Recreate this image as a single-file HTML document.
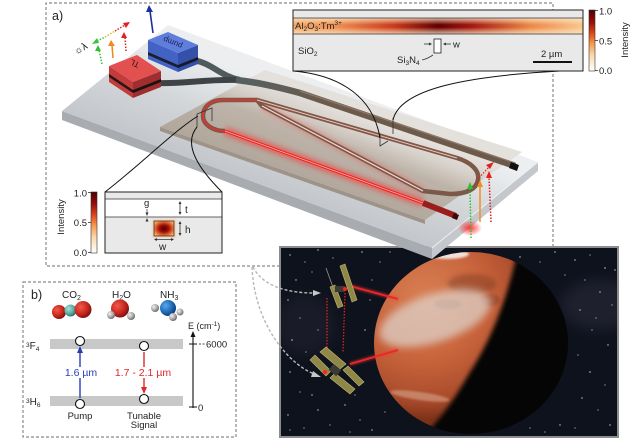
<!DOCTYPE html>
<html><head><meta charset="utf-8">
<style>
html,body{margin:0;padding:0;background:#fff;}
svg{display:block;}
text{font-family:"Liberation Sans",Arial,sans-serif;fill:#222;}
</style></head>
<body>
<svg width="637" height="443" viewBox="0 0 637 443" xmlns="http://www.w3.org/2000/svg">
<defs>
<linearGradient id="cb" x1="0" y1="0" x2="0" y2="1">
 <stop offset="0" stop-color="#4d0000"/>
 <stop offset="0.2" stop-color="#9a0d0a"/>
 <stop offset="0.4" stop-color="#e0501e"/>
 <stop offset="0.55" stop-color="#f59a4c"/>
 <stop offset="0.75" stop-color="#fcd9ae"/>
 <stop offset="1" stop-color="#ffffff"/>
</linearGradient>
<linearGradient id="band" x1="0" y1="0" x2="1" y2="0">
 <stop offset="0" stop-color="#f2a868"/>
 <stop offset="0.15" stop-color="#ee9052"/>
 <stop offset="0.35" stop-color="#c83a1c"/>
 <stop offset="0.5" stop-color="#620000"/>
 <stop offset="0.62" stop-color="#a51a10"/>
 <stop offset="0.82" stop-color="#ec8a48"/>
 <stop offset="1" stop-color="#f8c890"/>
</linearGradient>
<linearGradient id="bandv" x1="0" y1="0" x2="0" y2="1">
 <stop offset="0" stop-color="#fde8c8" stop-opacity="0.8"/>
 <stop offset="0.42" stop-color="#fde8c8" stop-opacity="0"/>
 <stop offset="0.58" stop-color="#fde8c8" stop-opacity="0"/>
 <stop offset="1" stop-color="#fde8c8" stop-opacity="0.8"/>
</linearGradient>
<radialGradient id="mode" cx="0.5" cy="0.5" r="0.6">
 <stop offset="0" stop-color="#4a0000"/>
 <stop offset="0.4" stop-color="#a01008"/>
 <stop offset="0.75" stop-color="#e86a30"/>
 <stop offset="1" stop-color="#f8b070"/>
</radialGradient>
<linearGradient id="slabTop" gradientUnits="userSpaceOnUse" x1="250" y1="181" x2="285" y2="87">
 <stop offset="0" stop-color="#c3c7cb"/>
 <stop offset="0.5" stop-color="#d3d6d9"/>
 <stop offset="1" stop-color="#eceef0"/>
</linearGradient>
<linearGradient id="beige" gradientUnits="userSpaceOnUse" x1="290" y1="175" x2="318" y2="100">
 <stop offset="0" stop-color="#b2a79c"/>
 <stop offset="0.55" stop-color="#bdb3a8"/>
 <stop offset="0.8" stop-color="#d8d2cc"/>
 <stop offset="1" stop-color="#e4e0dc"/>
</linearGradient>
<linearGradient id="fiber" gradientUnits="userSpaceOnUse" x1="160" y1="0" x2="330" y2="0">
 <stop offset="0" stop-color="#3e4446"/>
 <stop offset="0.5" stop-color="#55615f"/>
 <stop offset="1" stop-color="#6e5a4a"/>
</linearGradient>
<radialGradient id="planet" gradientUnits="userSpaceOnUse" cx="425" cy="300" r="120">
 <stop offset="0" stop-color="#d98055"/>
 <stop offset="0.5" stop-color="#c8643c"/>
 <stop offset="0.85" stop-color="#a84a2a"/>
 <stop offset="1" stop-color="#7a3018"/>
</radialGradient>
<radialGradient id="glowR" cx="0.5" cy="0.5" r="0.5">
 <stop offset="0" stop-color="#ff2a2a" stop-opacity="0.95"/>
 <stop offset="1" stop-color="#ff2a2a" stop-opacity="0"/>
</radialGradient>
<radialGradient id="sRed" cx="0.35" cy="0.35" r="0.7">
 <stop offset="0" stop-color="#f05a4a"/><stop offset="0.6" stop-color="#c8281e"/><stop offset="1" stop-color="#7a1010"/>
</radialGradient>
<radialGradient id="sTeal" cx="0.35" cy="0.35" r="0.7">
 <stop offset="0" stop-color="#a8e0d8"/><stop offset="0.6" stop-color="#5aaca2"/><stop offset="1" stop-color="#2e6a64"/>
</radialGradient>
<radialGradient id="sGray" cx="0.35" cy="0.35" r="0.7">
 <stop offset="0" stop-color="#f0f0f0"/><stop offset="0.6" stop-color="#a8a8a8"/><stop offset="1" stop-color="#606060"/>
</radialGradient>
<radialGradient id="sBlue" cx="0.35" cy="0.35" r="0.7">
 <stop offset="0" stop-color="#5aa8e8"/><stop offset="0.6" stop-color="#1e6ab8"/><stop offset="1" stop-color="#0c3a70"/>
</radialGradient>
<filter id="b1" x="-50%" y="-50%" width="200%" height="200%"><feGaussianBlur stdDeviation="1"/></filter>
<filter id="b2" x="-50%" y="-50%" width="200%" height="200%"><feGaussianBlur stdDeviation="2.5"/></filter>
<filter id="b4" x="-50%" y="-50%" width="200%" height="200%"><feGaussianBlur stdDeviation="4"/></filter>
<filter id="b6" x="-50%" y="-50%" width="200%" height="200%"><feGaussianBlur stdDeviation="7"/></filter>
<clipPath id="pclip"><ellipse cx="471" cy="343" rx="97" ry="91"/></clipPath>
<clipPath id="mclip"><rect x="281" y="248" width="336" height="188"/></clipPath>
</defs>

<!-- ================= MARS IMAGE ================= -->
<g clip-path="url(#mclip)">
 <rect x="280" y="247" width="338" height="190" fill="#0e121d"/>
 <ellipse cx="600" cy="305" rx="40" ry="25" fill="#6a6478" opacity="0.18" filter="url(#b6)"/>
 <ellipse cx="305" cy="325" rx="30" ry="30" fill="#5a5868" opacity="0.15" filter="url(#b6)"/>
 <g fill="#fff" opacity="0.75">
  <circle cx="290" cy="255" r="0.7"/><circle cx="305" cy="262" r="0.6"/><circle cx="318" cy="250" r="0.7"/><circle cx="333" cy="258" r="0.6"/><circle cx="362" cy="252" r="0.7"/><circle cx="380" cy="262" r="0.6"/><circle cx="296" cy="280" r="0.7"/><circle cx="312" cy="272" r="0.6"/><circle cx="288" cy="300" r="0.7"/><circle cx="300" cy="318" r="0.6"/><circle cx="292" cy="340" r="0.8"/><circle cx="306" cy="352" r="0.6"/><circle cx="290" cy="372" r="0.7"/><circle cx="300" cy="392" r="0.6"/><circle cx="288" cy="415" r="0.7"/><circle cx="304" cy="428" r="0.6"/><circle cx="318" cy="410" r="0.7"/><circle cx="330" cy="425" r="0.6"/><circle cx="345" cy="405" r="0.7"/><circle cx="360" cy="420" r="0.6"/><circle cx="372" cy="430" r="0.7"/><circle cx="385" cy="412" r="0.6"/><circle cx="355" cy="395" r="0.6"/><circle cx="370" cy="300" r="0.6"/><circle cx="365" cy="330" r="0.7"/><circle cx="575" cy="260" r="0.7"/><circle cx="590" cy="255" r="0.6"/><circle cx="605" cy="268" r="0.8"/><circle cx="585" cy="280" r="0.6"/><circle cx="600" cy="292" r="0.7"/><circle cx="612" cy="305" r="0.6"/><circle cx="580" cy="310" r="0.7"/><circle cx="592" cy="330" r="0.6"/><circle cx="608" cy="345" r="0.7"/><circle cx="578" cy="355" r="0.6"/><circle cx="590" cy="372" r="0.8"/><circle cx="605" cy="385" r="0.6"/><circle cx="582" cy="398" r="0.7"/><circle cx="598" cy="410" r="0.6"/><circle cx="610" cy="425" r="0.7"/><circle cx="575" cy="428" r="0.6"/><circle cx="560" cy="425" r="0.7"/><circle cx="545" cy="432" r="0.6"/><circle cx="530" cy="428" r="0.6"/><circle cx="520" cy="257" r="0.7"/><circle cx="540" cy="262" r="0.6"/><circle cx="555" cy="252" r="0.7"/><circle cx="565" cy="275" r="0.6"/><circle cx="390" cy="252" r="0.6"/><circle cx="372" cy="280" r="0.6"/><circle cx="318" cy="330" r="0.6"/><circle cx="312" cy="395" r="0.7"/><circle cx="290" cy="430" r="0.6"/><circle cx="350" cy="432" r="0.6"/><circle cx="596" cy="318" r="0.6"/><circle cx="615" cy="270" r="0.7"/>
 </g>
 <ellipse cx="471" cy="343" rx="97" ry="91" fill="#050505"/>
 <g clip-path="url(#pclip)">
  <path d="M360,240 L522,240 L515,262 C506,300 492,338 470,372 C455,398 440,420 420,440 L360,440 Z" fill="url(#planet)" filter="url(#b2)"/>
  <ellipse cx="472" cy="284" rx="24" ry="10" fill="#7a3a24" opacity="0.45" filter="url(#b2)"/>
  <ellipse cx="448" cy="304" rx="14" ry="5" fill="#7a3a25" opacity="0.45" filter="url(#b1)"/>
  <ellipse cx="490" cy="300" rx="10" ry="6" fill="#7a3a25" opacity="0.4" filter="url(#b1)"/>
  <ellipse cx="435" cy="318" rx="58" ry="24" transform="rotate(-18 435 318)" fill="#ddd0c8" opacity="0.75" filter="url(#b4)"/>
  <ellipse cx="447" cy="254" rx="22" ry="5" fill="#f4eee8" opacity="0.9" filter="url(#b1)"/>
  <ellipse cx="420" cy="396" rx="30" ry="4" transform="rotate(8 420 396)" fill="#e0b8a0" opacity="0.5" filter="url(#b1)"/>
 </g>
 <line x1="350" y1="286" x2="398" y2="299" stroke="#ff3030" stroke-width="4" opacity="0.5" filter="url(#b1)"/>
 <line x1="350" y1="286" x2="398" y2="299" stroke="#e82828" stroke-width="1.8"/>
 <line x1="350" y1="364" x2="398" y2="350" stroke="#ff3030" stroke-width="4" opacity="0.5" filter="url(#b1)"/>
 <line x1="350" y1="364" x2="398" y2="350" stroke="#e82828" stroke-width="1.8"/>
 <line x1="327" y1="298" x2="327" y2="350" stroke="#e02020" stroke-width="1.3" stroke-dasharray="1.5,1.5"/>
 <line x1="345" y1="293" x2="343" y2="352" stroke="#e02020" stroke-width="1.3" stroke-dasharray="1.5,1.5"/>
 <g fill="#8e8748" stroke="#c4ba70" stroke-width="0.6">
  <polygon points="340,266 345,264 357,300 352,302"/>
  <polygon points="330,287 335,285 343,306 338,308"/>
  <polygon points="320,352 326,347 346,364 340,369"/>
  <polygon points="310,360 315,355 331,371 326,376"/>
  <polygon points="330,378 335,373 355,389 350,394"/>
  <polygon points="343,370 348,366 364,382 359,386"/>
 </g>
 <line x1="326" y1="268" x2="334" y2="290" stroke="#9a9a80" stroke-width="0.8"/>
 <rect x="335" y="286" width="10" height="6" fill="#3a3a34"/>
 <rect x="330" y="366" width="10" height="8" fill="#3a3a34" transform="rotate(40 335 370)"/>
 <circle cx="345" cy="289" r="2" fill="#ff2020"/>
 <circle cx="325" cy="372" r="2" fill="#ff2020"/>
</g>
<rect x="280" y="247" width="338" height="190" fill="none" stroke="#8c8c8c" stroke-width="2"/>

<path d="M253,267 C262,285 285,293 314,293" fill="none" stroke="#b8b8b8" stroke-width="1.4" stroke-dasharray="3,2"/>
<polygon points="321,293 313,290 313,296" fill="#c8c8c8"/>
<path d="M252,267 C254,320 285,362 314,374" fill="none" stroke="#b8b8b8" stroke-width="1.4" stroke-dasharray="3,2"/>
<polygon points="321,377 313,371 311,377" fill="#c8c8c8"/>

<path d="M280,266 L46,266 L46,3 L553,3 L553,247" fill="none" stroke="#8a8a8a" stroke-width="1.2" stroke-dasharray="3,2"/>
<text x="52" y="20" font-size="12.5">a)</text>

<polygon points="62,111 432,248 432,259 62,120" fill="#a8acb1"/>
<polygon points="432,248 538,162 538,171 432,259" fill="#c4c8cc"/>
<polygon points="62,111 168,25 538,162 432,248" fill="url(#slabTop)"/>
<line x1="432" y1="248" x2="538" y2="162" stroke="#eef0f2" stroke-width="1"/>
<polygon points="160,127 425,220 425,224 160,131" fill="#9e9388"/>
<polygon points="160,127 265,70 522,152 425,220" fill="url(#beige)"/>

<path d="M193,60 C212,63 220,76 240,80" fill="none" stroke="#4f5a5c" stroke-width="6"/>
<path d="M158,83 C185,84 205,79 240,80" fill="none" stroke="#3e4446" stroke-width="6"/>
<path d="M236,80 C258,82 285,89 300,93 L515,166" fill="none" stroke="url(#fiber)" stroke-width="6.5"/>
<path d="M300,91 L515,163" fill="none" stroke="#8d7a6a" stroke-width="1.2"/>
<polygon points="511,162 519,165 517,171 509,168" fill="#111"/>

<path d="M262,106 L423,191" fill="none" stroke="#ff3a3a" stroke-width="7" opacity="0.35" filter="url(#b2)"/>
<path d="M225,131 C212,131 203,124 203,116 C203,106 212,100 223,100 L257,100 L457,158 C470,162 480,170 478,180 C476,190 465,194 450,194 L423,191 L262,106 L257,100" fill="none" stroke="#7b5848" stroke-width="4.5" stroke-linejoin="round"/>
<path d="M225,131 C212,131 203,124 203,116 C203,106 212,100 223,100 L257,100" fill="none" stroke="#e83030" stroke-width="1.6"/>
<path d="M257,100 L457,158" fill="none" stroke="#f0c0b8" stroke-width="1"/>
<path d="M262,106 L423,191" fill="none" stroke="#f6d6d0" stroke-width="1.2"/>
<path d="M225,131 L423,203" fill="none" stroke="#ff2020" stroke-width="9" opacity="0.45" filter="url(#b2)"/>
<path d="M225,131 L423,203" fill="none" stroke="#ee2222" stroke-width="3"/>
<path d="M225,131 L423,203" fill="none" stroke="#ffb0a0" stroke-width="0.8"/>
<line x1="423" y1="203" x2="456" y2="216" stroke="#9a1c1c" stroke-width="6"/>
<ellipse cx="470" cy="228" rx="12" ry="8" fill="url(#glowR)"/>
<polygon points="454,213 459,215 457,220 452,218" fill="#3a0a0a"/>

<line x1="471" y1="238" x2="470" y2="188" stroke="#30c030" stroke-width="1.5" stroke-dasharray="1.5,1.5"/>
<polygon points="470,182 467,189 473,189" fill="#30c030"/>
<line x1="480" y1="222" x2="480" y2="186" stroke="#f09020" stroke-width="1.5"/>
<polygon points="480,180 477,187 483,187" fill="#f09020"/>
<line x1="491" y1="222" x2="489" y2="177" stroke="#e02020" stroke-width="1.5" stroke-dasharray="1.5,1.5"/>
<polygon points="489,171 486,178 492,178" fill="#e02020"/>
<line x1="477" y1="180" x2="489" y2="167" stroke="#e02020" stroke-width="1.2" stroke-dasharray="1.5,1.5"/>
<polygon points="494,162 486,165 490,169" fill="#e02020"/>

<g>
 <polygon points="148,40 178,53 178,72 148,59" fill="#4262c4"/>
 <polygon points="178,53 198,45 198,64 178,72" fill="#3450a8"/>
 <polygon points="148,52 178,65 178,68 148,55" fill="#1a1f30"/>
 <polygon points="178,65 198,57 198,60 178,68" fill="#14182a"/>
 <polygon points="148,40 168,32 198,45 178,53" fill="#5f7ddc"/>
 <text x="0" y="0" font-size="8" transform="translate(183,44) rotate(202)" style="fill:#1a2550">pump</text>
</g>
<g>
 <polygon points="109,66 133,82 133,98 109,82" fill="#c23c3c"/>
 <polygon points="133,82 161,71 161,87 133,98" fill="#9e2e30"/>
 <polygon points="109,74 133,90 133,93 109,77" fill="#2a1414"/>
 <polygon points="133,90 161,79 161,82 133,93" fill="#201010"/>
 <polygon points="109,66 137,55 161,71 133,82" fill="#e25050"/>
 <text x="0" y="0" font-size="8" transform="translate(140,63) rotate(205)" style="fill:#3a0a0a">TL</text>
</g>
<line x1="153" y1="33" x2="150" y2="11" stroke="#1a2fa0" stroke-width="1.6"/>
<polygon points="149,5 146,12 153,12" fill="#1a2fa0"/>
<line x1="102" y1="64" x2="99" y2="50" stroke="#30c030" stroke-width="1.5" stroke-dasharray="1.5,1.5"/>
<polygon points="98,45 95,51 101,51" fill="#30c030"/>
<line x1="113" y1="58" x2="112" y2="45" stroke="#f08a20" stroke-width="1.6"/>
<polygon points="111,40 108,46 115,46" fill="#f08a20"/>
<line x1="126" y1="51" x2="125" y2="37" stroke="#e02020" stroke-width="1.5" stroke-dasharray="1.5,1.5"/>
<polygon points="124,32 121,38 127,38" fill="#e02020"/>
<line x1="97" y1="41" x2="105" y2="37" stroke="#40c040" stroke-width="1.5" stroke-dasharray="1.5,1.5"/>
<line x1="105" y1="37" x2="115" y2="31" stroke="#d8c020" stroke-width="1.5" stroke-dasharray="1.5,1.5"/>
<line x1="115" y1="31" x2="125" y2="25" stroke="#e02020" stroke-width="1.5" stroke-dasharray="1.5,1.5"/>
<polygon points="92,44 97,38 99,43" fill="#40c040"/>
<polygon points="130,22 123,23 126,28" fill="#e02020"/>
<text x="0" y="0" font-size="10" transform="translate(76,55) rotate(-30)" style="fill:#111">☼λ</text>

<path d="M197,127 L197,114 L212,108 L212,121" fill="none" stroke="#333" stroke-width="0.8"/>
<path d="M380,134 L380,146 L388,141 M393,118 L393,134" fill="none" stroke="#333" stroke-width="0.8"/>

<path d="M293,71 C330,74 372,90 380,138" fill="none" stroke="#111" stroke-width="1"/>
<path d="M560,71 C470,76 400,88 393,120" fill="none" stroke="#111" stroke-width="1"/>
<path d="M105,192 C140,165 175,130 198,116" fill="none" stroke="#111" stroke-width="1"/>
<path d="M222,192 C200,170 182,145 197,127" fill="none" stroke="#111" stroke-width="1"/>

<rect x="293" y="10" width="290" height="61" fill="#e9e9e9"/>
<rect x="293" y="18" width="290" height="16" fill="url(#band)"/>
<rect x="293" y="18" width="290" height="16" fill="url(#bandv)"/>
<line x1="293" y1="18" x2="583" y2="18" stroke="#333" stroke-width="0.8"/>
<line x1="293" y1="34" x2="583" y2="34" stroke="#333" stroke-width="0.8"/>
<rect x="293" y="10" width="290" height="61" fill="none" stroke="#222" stroke-width="1"/>
<text x="295" y="29" font-size="9.5">Al<tspan font-size="6.5" dy="2">2</tspan><tspan dy="-2">O</tspan><tspan font-size="6.5" dy="2">3</tspan><tspan dy="-2">:Tm</tspan><tspan font-size="6.5" dy="-4">3+</tspan></text>
<text x="298" y="54" font-size="9.5">SiO<tspan font-size="6.5" dy="2">2</tspan></text>
<rect x="434" y="39" width="7" height="14" fill="#fff" stroke="#222" stroke-width="0.8"/>
<line x1="424" y1="44" x2="431" y2="44" stroke="#333" stroke-width="0.8"/>
<polygon points="432,44 429,42.5 429,45.5" fill="#333"/>
<line x1="444" y1="44" x2="451" y2="44" stroke="#333" stroke-width="0.8"/>
<polygon points="443,44 446,42.5 446,45.5" fill="#333"/>
<text x="453" y="47.5" font-size="9.5">w</text>
<text x="397" y="63" font-size="9.5">Si<tspan font-size="6.5" dy="2">3</tspan><tspan dy="-2">N</tspan><tspan font-size="6.5" dy="2">4</tspan></text>
<path d="M422,60 C427,59 430,57 433,55" fill="none" stroke="#333" stroke-width="0.8"/>
<text x="541" y="57" font-size="9.5">2 µm</text>
<line x1="533" y1="62" x2="572" y2="62" stroke="#111" stroke-width="2"/>
<rect x="589" y="10" width="6" height="61" fill="url(#cb)" stroke="#333" stroke-width="0.6"/>
<line x1="595" y1="10.5" x2="598" y2="10.5" stroke="#333" stroke-width="0.8"/>
<line x1="595" y1="40.5" x2="598" y2="40.5" stroke="#333" stroke-width="0.8"/>
<line x1="595" y1="70.5" x2="598" y2="70.5" stroke="#333" stroke-width="0.8"/>
<text x="599" y="14.5" font-size="9.5">1.0</text>
<text x="599" y="44.5" font-size="9.5">0.5</text>
<text x="599" y="74" font-size="9.5">0.0</text>
<text x="0" y="0" font-size="9.5" text-anchor="middle" transform="translate(628,40) rotate(-90)">Intensity</text>

<rect x="105" y="192" width="117" height="61" fill="#e9e9e9"/>
<rect x="105" y="199" width="117" height="18" fill="#fff"/>
<line x1="105" y1="199" x2="222" y2="199" stroke="#333" stroke-width="0.8"/>
<line x1="105" y1="217" x2="222" y2="217" stroke="#333" stroke-width="0.8"/>
<rect x="152" y="219" width="24" height="19" fill="#f6b880" opacity="0.5" filter="url(#b1)"/>
<rect x="154" y="221" width="20" height="15" fill="url(#mode)" stroke="#222" stroke-width="0.7"/>
<rect x="105" y="192" width="117" height="61" fill="none" stroke="#222" stroke-width="1"/>
<text x="144" y="206" font-size="9.5">g</text>
<line x1="147" y1="209" x2="147" y2="213" stroke="#333" stroke-width="0.7"/>
<polygon points="147,216 145.5,212.5 148.5,212.5" fill="#333"/>
<polygon points="147,218 145.5,221.5 148.5,221.5" fill="#333"/>
<line x1="180" y1="202" x2="180" y2="214" stroke="#333" stroke-width="0.8"/>
<polygon points="180,201 178.5,204 181.5,204" fill="#333"/>
<polygon points="180,215 178.5,212 181.5,212" fill="#333"/>
<text x="185" y="213" font-size="10">t</text>
<line x1="180" y1="222" x2="180" y2="235" stroke="#333" stroke-width="0.8"/>
<polygon points="180,221 178.5,224 181.5,224" fill="#333"/>
<polygon points="180,236 178.5,233 181.5,233" fill="#333"/>
<text x="185" y="233" font-size="10">h</text>
<line x1="155" y1="239.5" x2="173" y2="239.5" stroke="#333" stroke-width="0.8"/>
<polygon points="154,239.5 157,238 157,241" fill="#333"/>
<polygon points="174,239.5 171,238 171,241" fill="#333"/>
<text x="159" y="250" font-size="10">w</text>
<rect x="91" y="192" width="6" height="61" fill="url(#cb)" stroke="#333" stroke-width="0.6"/>
<line x1="88" y1="192.5" x2="91" y2="192.5" stroke="#333" stroke-width="0.8"/>
<line x1="88" y1="222.5" x2="91" y2="222.5" stroke="#333" stroke-width="0.8"/>
<line x1="88" y1="252.5" x2="91" y2="252.5" stroke="#333" stroke-width="0.8"/>
<text x="87" y="196.5" font-size="9.5" text-anchor="end">1.0</text>
<text x="87" y="226" font-size="9.5" text-anchor="end">0.5</text>
<text x="87" y="256" font-size="9.5" text-anchor="end">0.0</text>
<text x="0" y="0" font-size="9.5" text-anchor="middle" transform="translate(64,217) rotate(-90)">Intensity</text>

<rect x="23" y="282" width="213" height="155" fill="none" stroke="#8a8a8a" stroke-width="1.2" stroke-dasharray="3,2"/>
<text x="31" y="299" font-size="12.5">b)</text>
<text x="62" y="298" font-size="10">CO<tspan font-size="7" dy="2">2</tspan></text>
<text x="112" y="298" font-size="10">H<tspan font-size="7" dy="2">2</tspan><tspan dy="-2">O</tspan></text>
<text x="160" y="298" font-size="10">NH<tspan font-size="7" dy="2">3</tspan></text>
<circle cx="59" cy="312" r="7" fill="url(#sRed)"/>
<circle cx="70.5" cy="310.5" r="6" fill="url(#sTeal)"/>
<circle cx="83" cy="309.5" r="8.5" fill="url(#sRed)"/>
<circle cx="120" cy="308.5" r="9" fill="url(#sRed)"/>
<circle cx="111" cy="315" r="4" fill="url(#sGray)"/>
<circle cx="131" cy="316" r="4" fill="url(#sGray)"/>
<circle cx="155" cy="308" r="4" fill="url(#sGray)"/>
<circle cx="168" cy="308" r="8" fill="url(#sBlue)"/>
<circle cx="173" cy="317" r="4" fill="url(#sGray)"/>
<circle cx="180" cy="312" r="3.5" fill="url(#sGray)"/>
<rect x="50" y="339" width="133" height="10" fill="#c8c8c8"/>
<rect x="50" y="396" width="133" height="10" fill="#c8c8c8"/>
<text x="26" y="347" font-size="6.5">3<tspan font-size="10" dy="2">F</tspan><tspan font-size="6.5" dy="2">4</tspan></text>
<text x="26" y="403" font-size="6.5">3<tspan font-size="10" dy="2">H</tspan><tspan font-size="6.5" dy="2">6</tspan></text>
<line x1="80" y1="398" x2="80" y2="351" stroke="#2a3ab8" stroke-width="1.4"/>
<polygon points="80,346 77,353 83,353" fill="#2a3ab8"/>
<rect x="64" y="367" width="36" height="11" fill="#fff"/>
<text x="81" y="376" font-size="10.5" text-anchor="middle" style="fill:#2a3ab8">1.6 µm</text>
<line x1="144" y1="352" x2="144" y2="389" stroke="#e02828" stroke-width="1.4"/>
<polygon points="144,394 141,387 147,387" fill="#e02828"/>
<rect x="118" y="367" width="50" height="11" fill="#fff"/>
<text x="143" y="376" font-size="10.5" text-anchor="middle" style="fill:#e02828">1.7 - 2.1 µm</text>
<circle cx="80" cy="341" r="4.5" fill="#fff" stroke="#111" stroke-width="1.1"/>
<circle cx="144" cy="346" r="4.5" fill="#fff" stroke="#111" stroke-width="1.1"/>
<circle cx="80" cy="404" r="4.5" fill="#fff" stroke="#111" stroke-width="1.1"/>
<circle cx="144" cy="399" r="4.5" fill="#fff" stroke="#111" stroke-width="1.1"/>
<text x="80" y="419" font-size="9.5" text-anchor="middle">Pump</text>
<text x="144" y="419" font-size="9.5" text-anchor="middle">Tunable</text>
<text x="144" y="428" font-size="9.5" text-anchor="middle">Signal</text>
<line x1="193" y1="408" x2="193" y2="336" stroke="#111" stroke-width="1.1"/>
<polygon points="193,331 190.5,337 195.5,337" fill="#111"/>
<text x="188" y="329" font-size="9">E (cm<tspan font-size="6.5" dy="-3">-1</tspan><tspan dy="3">)</tspan></text>
<line x1="189" y1="344" x2="197" y2="344" stroke="#111" stroke-width="1"/>
<line x1="199" y1="344" x2="205" y2="344" stroke="#111" stroke-width="0.8" stroke-dasharray="2,1.5"/>
<text x="206" y="347.5" font-size="9.5">6000</text>
<line x1="189" y1="407" x2="197" y2="407" stroke="#111" stroke-width="1"/>
<text x="198" y="411" font-size="9.5">0</text>
</svg>
</body></html>
